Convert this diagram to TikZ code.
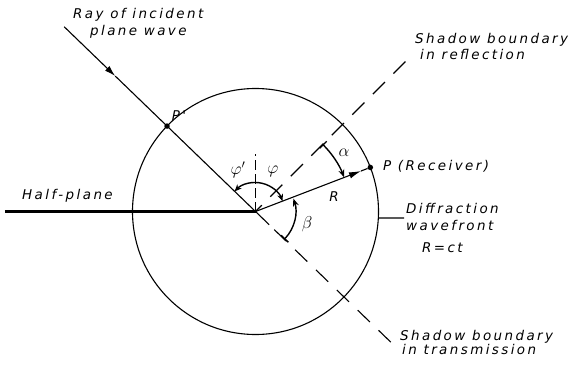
\documentclass[tikz,border=0pt]{standalone}
\usepackage{fontspec}
\newfontfamily\lblfont{DejaVu Sans}[LetterSpace=18]
\usetikzlibrary{arrows.meta,calc}
\begin{document}
\begin{tikzpicture}[x=1bp,y=1bp,
  lbl/.style={font=\lblfont\itshape\fontsize{13.5}{17}\selectfont, inner sep=0pt},
  sym/.style={font=\fontsize{18}{20}\selectfont, inner sep=0pt},
  thinl/.style={line width=1.1bp},
  dashl/.style={line width=1.1bp, dash pattern=on 17bp off 12bp},
  dotn/.style={circle, fill=black, inner sep=0pt, minimum size=5.5bp},
  arcarrow/.style={line width=1.4bp},
]
\useasboundingbox (-255.5,-152.5) rectangle (323.5,211.5);
% centre
\coordinate (O) at (0,0);
% half-plane
\coordinate (HPend) at (-250.5,0);
\draw[line width=2.8bp] (HPend) -- (O);
% wavefront circle
\draw[thinl] (O) circle[radius=123];
% incident ray
\coordinate (Rstart) at (136:266);
\coordinate (Rmid) at (136:195);
\coordinate (Rend) at (-44:19);
\node[dotn] (Pp) at (136:123) {};
\draw[thinl,-{Latex[length=11bp,width=6.5bp]}] (Rstart) -- (Rmid);
\draw[thinl] (Rmid) -- (Rend);
% shadow boundaries
\coordinate (Refl) at (45:215);
\coordinate (Trans) at (-44:196);
\coordinate (Tstart) at (-44:26);
\draw[dashl, dash phase=8bp] (O) -- (Refl);
\draw[dashl] (Tstart) -- (Trans);
% vertical dashed reference
\coordinate (Vtop) at (0,58);
\draw[line width=1.1bp, dash pattern=on 10bp off 4bp] (O) -- (Vtop);
% receiver
\node[dotn] (P) at (21:123) {};
\coordinate (Rtip) at (21:113);
\draw[thinl,-{Latex[length=12bp,width=6.5bp]}] (O) -- (Rtip);
\draw[thinl] (Rtip) -- (P);
% angle arcs
\draw[arcarrow,{Stealth[length=7bp,width=6bp]}-{Stealth[length=7bp,width=6bp]}] (136:29) arc[start angle=136,end angle=21,radius=29];
\draw[arcarrow,{Bar[width=10bp]}-{Stealth[length=8bp,width=6bp]}] (45:95) arc[start angle=45,end angle=21,radius=95];
\draw[arcarrow,{Bar[width=10bp]}-{Stealth[length=8bp,width=6bp]}] (-44:40) arc[start angle=-44,end angle=19,radius=40];
% wavefront leader
\coordinate (Lc) at (-3.03:123);
\coordinate (Lt) at (148.5,-6.5);
\draw[thinl] (Lc) -- (Lt);
% labels
\node[lbl, anchor=base west] (ray1) at (-182.5,193.2) {Ray of incident};
\node[lbl, anchor=base west] (ray2) at (-165.5,176.5) {plane wave};
\node[lbl] (Pplbl) at (-76.5,95.5) {P'};
\node[lbl, anchor=base west] (hp) at (-233.5,12.5) {Half-plane};
\node[sym] (phip) at (-17.5,41.5) {$\varphi'$};
\node[sym] (phi) at (17.5,40.5) {$\varphi$};
\node[sym] (alpha) at (88.5,58.5) {$\alpha$};
\node[lbl] (Rlbl) at (78.5,14.5) {R};
\node[sym] (beta) at (51.5,-12.5) {$\beta$};
\node[lbl, anchor=west] (Plbl) at (127.5,45.5) {P (Receiver)};
\node[lbl, anchor=base west] (df1) at (150.5,-1.5) {Diffraction};
\node[lbl, anchor=base west] (df2) at (150.5,-18.5) {wavefront};
\node[lbl, anchor=base west] (df3) at (166.5,-40.5) {R=ct};
\node[lbl, anchor=base west] (sr1) at (159.5,168.5) {Shadow boundary};
\node[lbl, anchor=base west] (sr2) at (164.5,152.5) {in reflection};
\node[lbl, anchor=base west] (st1) at (144.5,-128.5) {Shadow boundary};
\node[lbl, anchor=base west] (st2) at (146.5,-142.5) {in transmission};
\end{tikzpicture}
\end{document}
